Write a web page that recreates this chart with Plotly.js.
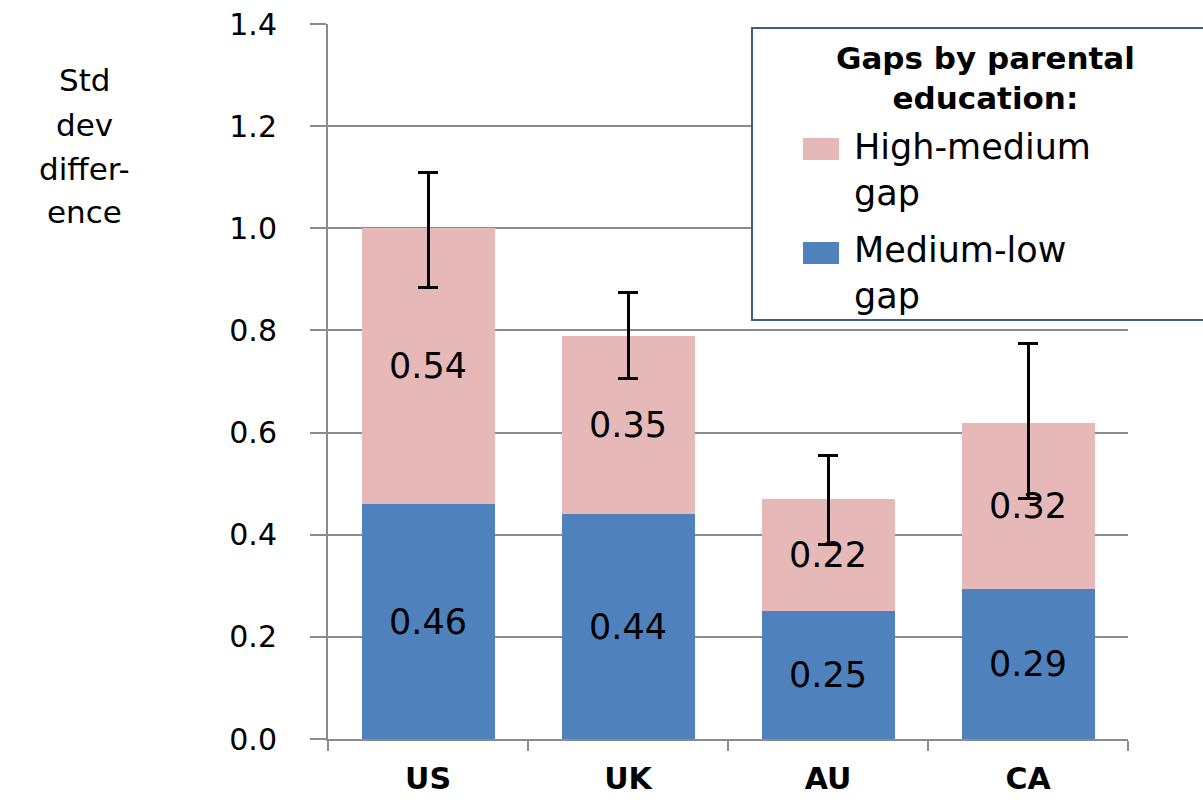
<!DOCTYPE html>
<html>
<head>
<meta charset="utf-8">
<script src="https://cdn.plot.ly/plotly-3.0.1.min.js"></script>
<style>html,body{margin:0;padding:0;background:#fff;}#chart{width:1203px;height:800px;}</style>
</head>
<body>
<div id="chart"></div>
<script>
// ---- data ----
const countries = ["US", "UK", "AU", "CA"];
const mediumLowGap = [0.46, 0.44, 0.25, 0.294];
const highMediumGap = [0.54, 0.35, 0.22, 0.324];
const errPlus = [0.11, 0.085, 0.085, 0.156];
const errMinus = [0.115, 0.085, 0.09, 0.147];
const seriesNames = ["High-medium<br>gap", "Medium-low<br>gap"];
const legendTitle = "Gaps by parental<br>education:";
const yTitleLines = ["Std", "dev", "differ-", "ence"];
const yTicks = [0, 0.2, 0.4, 0.6, 0.8, 1.0, 1.2, 1.4];

const FONT = "DejaVu Sans, Verdana, sans-serif";
const BLUE = "#4F81BD";
const PINK = "#E6B9B8";
const GRID = "#8C8C8C";

const labelFont = {family: FONT, size: 35, color: "#000"};

const traces = [
  {
    type: "bar", name: "Medium-low gap", x: countries, y: mediumLowGap,
    marker: {color: BLUE},
    texttemplate: "%{y:.2f}", textposition: "inside", insidetextanchor: "middle",
    textangle: 0, constraintext: "none",
    insidetextfont: labelFont,
    hoverinfo: "x+y", showlegend: false
  },
  {
    type: "bar", name: "High-medium gap", x: countries, y: highMediumGap,
    marker: {color: PINK},
    texttemplate: "%{y:.2f}", textposition: "inside", insidetextanchor: "middle",
    textangle: 0, constraintext: "none",
    insidetextfont: labelFont,
    error_y: {type: "data", symmetric: false, array: errPlus, arrayminus: errMinus,
              color: "#000", thickness: 3, width: 10},
    hoverinfo: "x+y", showlegend: false
  }
];

// plot area pixel helpers for the custom legend / y title
const L = 328, R = 75, T = 24, B = 61, W = 1203, H = 800;
const pw = W - L - R, ph = H - T - B;
const px = v => (v - L) / pw;
const py = v => (H - B - v) / ph;

const yTitleY = [80, 125, 169, 212];
const annotations = yTitleLines.map((t, i) => ({
  xref: "paper", yref: "paper", x: px(85), y: py(yTitleY[i]), xanchor: "center", yanchor: "middle",
  text: t, showarrow: false, font: {family: FONT, size: 31, color: "#000"}
}));
annotations.push(
  {xref: "paper", yref: "paper", x: px(985), y: py(78), xanchor: "center", yanchor: "middle",
   text: "<b>" + legendTitle + "</b>", showarrow: false, align: "center",
   font: {family: FONT, size: 31, color: "#000"}},
  {xref: "paper", yref: "paper", x: px(852), y: py(170), xanchor: "left", yanchor: "middle",
   text: seriesNames[0], showarrow: false, align: "left",
   font: {family: FONT, size: 35, color: "#000"}},
  {xref: "paper", yref: "paper", x: px(852), y: py(273), xanchor: "left", yanchor: "middle",
   text: seriesNames[1], showarrow: false, align: "left",
   font: {family: FONT, size: 35, color: "#000"}}
);

const shapes = [
  {type: "rect", xref: "paper", yref: "paper", x0: px(752), x1: px(1215), y0: py(28), y1: py(320),
   line: {color: "#3B5F8D", width: 2}, fillcolor: "#fff", layer: "above"},
  {type: "rect", xref: "paper", yref: "paper", x0: px(803), x1: px(839), y0: py(138), y1: py(160),
   line: {width: 0}, fillcolor: PINK, layer: "above"},
  {type: "rect", xref: "paper", yref: "paper", x0: px(803), x1: px(839), y0: py(242), y1: py(264),
   line: {width: 0}, fillcolor: BLUE, layer: "above"}
];

const layout = {
  width: W, height: H,
  margin: {l: L, r: R, t: T, b: B, pad: 0},
  paper_bgcolor: "#fff", plot_bgcolor: "#fff",
  barmode: "stack", bargap: 0.335,
  showlegend: false,
  font: {family: FONT, color: "#000"},
  xaxis: {
    type: "category", showline: true, linecolor: GRID, linewidth: 2,
    ticks: "outside", tickson: "boundaries", ticklen: 10, tickwidth: 2, tickcolor: GRID,
    tickfont: {family: FONT, size: 30, color: "#000", weight: "bold"},
    ticklabelstandoff: 12,
    showgrid: false, zeroline: false, fixedrange: true
  },
  yaxis: {
    range: [0, 1.4], tickvals: yTicks, tickformat: ".1f",
    showline: true, linecolor: GRID, linewidth: 2,
    ticks: "outside", ticklen: 16, tickwidth: 2, tickcolor: GRID,
    showgrid: true, gridcolor: GRID, gridwidth: 2, zeroline: false,
    tickfont: {family: FONT, size: 30, color: "#000"},
    ticklabelstandoff: 27, fixedrange: true
  },
  annotations: annotations,
  shapes: shapes
};

Plotly.newPlot("chart", traces, layout, {displayModeBar: false, staticPlot: true});
</script>
</body>
</html>
